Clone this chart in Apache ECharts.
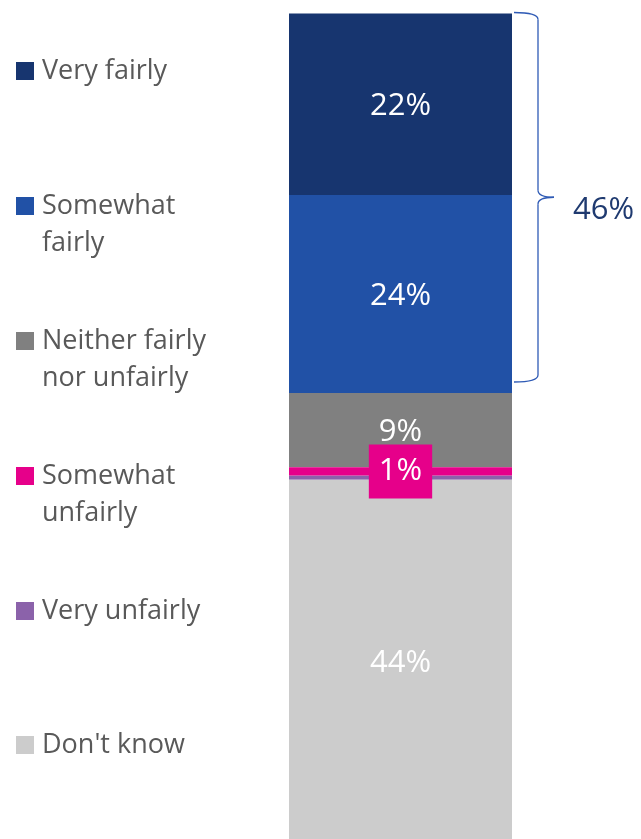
<!DOCTYPE html>
<html>
<head>
<meta charset="utf-8">
<script src="https://cdn.jsdelivr.net/npm/echarts@6/dist/echarts.min.js"></script>
<style>
  html, body { margin: 0; padding: 0; background: #fff; }
  #chart { width: 641px; height: 839px; }
</style>
</head>
<body>
<div id="chart"></div>
<script>
// Response categories, top to bottom of the stacked bar
const categories = ['Very fairly', 'Somewhat fairly', 'Neither fairly nor unfairly', 'Somewhat unfairly', 'Very unfairly', "Don't know"];
// Legend text with line breaks
const legendLabels = ['Very fairly', 'Somewhat\nfairly', 'Neither fairly\nnor unfairly', 'Somewhat\nunfairly', 'Very unfairly', "Don't know"];
// Share of respondents (%)
const values = [22, 24, 9, 1, 0.5, 44];
// Printed value labels ('' = none)
const valueLabels = ['22%', '24%', '9%', '1%', '', '44%'];
const colors = ['#17356F', '#2151A6', '#808080', '#E6008A', '#8B62AA', '#CCCCCC'];
// Bracketed net: first two categories
const netCount = 2;
const netLabel = '46%';

const FONT = '"Open Sans", "Liberation Sans", sans-serif';
const TEXT = '#595959';

const chart = echarts.init(document.getElementById('chart'), null, { renderer: 'canvas' });

const series = categories.map((name, i) => ({
  name,
  type: 'bar',
  stack: 'total',
  barWidth: '100%',
  clip: false,
  data: [values[i]],
  itemStyle: { color: colors[i] },
  label: {
    show: valueLabels[i] !== '',
    position: 'inside',
    offset: i === 3 ? [0, 0] : [0, 2],
    formatter: () => valueLabels[i],
    color: '#fff',
    fontFamily: FONT,
    fontSize: 31,
    lineHeight: 36,
    backgroundColor: i === 3 ? colors[i] : 'transparent',
    padding: i === 3 ? [9, 10, 9, 10] : 0
  },
  emphasis: { disabled: true },
  z: i === 3 ? 3 : 2
}));

// One legend block per category, stacked down the left side
const legendTops = [70, 205, 340, 475, 610, 744];
const LH = 37;
const legends = categories.map((name, i) => {
  const lines = legendLabels[i].split('\n');
  // a blank leading line keeps the swatch level with the first text line
  const text = lines.length > 1 ? ' \n' + lines.join('\n') : lines[0];
  const top = lines.length > 1 ? legendTops[i] - LH * 1.5 : legendTops[i] - LH / 2;
  return {
    orient: 'vertical',
    left: 16,
    top: top + 1,
    padding: 0,
    itemWidth: 18,
    itemHeight: 18,
    icon: 'rect',
    selectedMode: false,
    data: [name],
    formatter: () => text,
    textStyle: { color: TEXT, fontFamily: FONT, fontSize: 27, lineHeight: LH, padding: [0, 0, 0, 3] }
  };
});

chart.setOption({
  animation: false,
  grid: { left: 289, width: 223, top: 13.5, height: 833.25, outerBoundsMode: 'none' },
  xAxis: { type: 'category', data: [''], show: false },
  yAxis: { type: 'value', inverse: true, min: 0, max: 101, show: false },
  legend: legends,
  series
});

// Curly bracket beside the net of the first two segments
function drawBrace() {
  const netVal = values.slice(0, netCount).reduce((a, b) => a + b, 0);
  const yTop = chart.convertToPixel({ yAxisIndex: 0 }, 0) - 1;
  const yBot = chart.convertToPixel({ yAxisIndex: 0 }, netVal) - 11;
  const xL = chart.convertToPixel({ xAxisIndex: 0 }, 0) + 111.5 + 2;
  const xM = xL + 24;
  const xT = xL + 40;
  const yMid = (yTop + yBot) / 2;
  const r = 7;
  const stroke = { stroke: '#2E5AB5', lineWidth: 1.3, fill: null };
  const curve = (x1, y1, cx, cy, x2, y2) => ({
    type: 'bezierCurve',
    shape: { x1, y1, x2, y2, cpx1: cx, cpy1: cy },
    style: stroke
  });
  const line = (x1, y1, x2, y2) => ({
    type: 'line',
    shape: { x1, y1, x2, y2 },
    style: stroke
  });
  chart.setOption({
    graphic: [
      curve(xL, yTop, xM, yTop, xM, yTop + r),
      line(xM, yTop + r, xM, yMid - r),
      curve(xM, yMid - r, xM, yMid, xT, yMid),
      curve(xT, yMid, xM, yMid, xM, yMid + r),
      line(xM, yMid + r, xM, yBot - r),
      curve(xM, yBot - r, xM, yBot, xL, yBot),
      {
        type: 'text',
        x: xT + 19,
        y: yMid + 13,
        style: {
          text: netLabel,
          fill: '#1F3A70',
          font: '31px ' + FONT,
          verticalAlign: 'middle',
          align: 'left'
        }
      }
    ]
  });
}
drawBrace();
</script>
</body>
</html>
